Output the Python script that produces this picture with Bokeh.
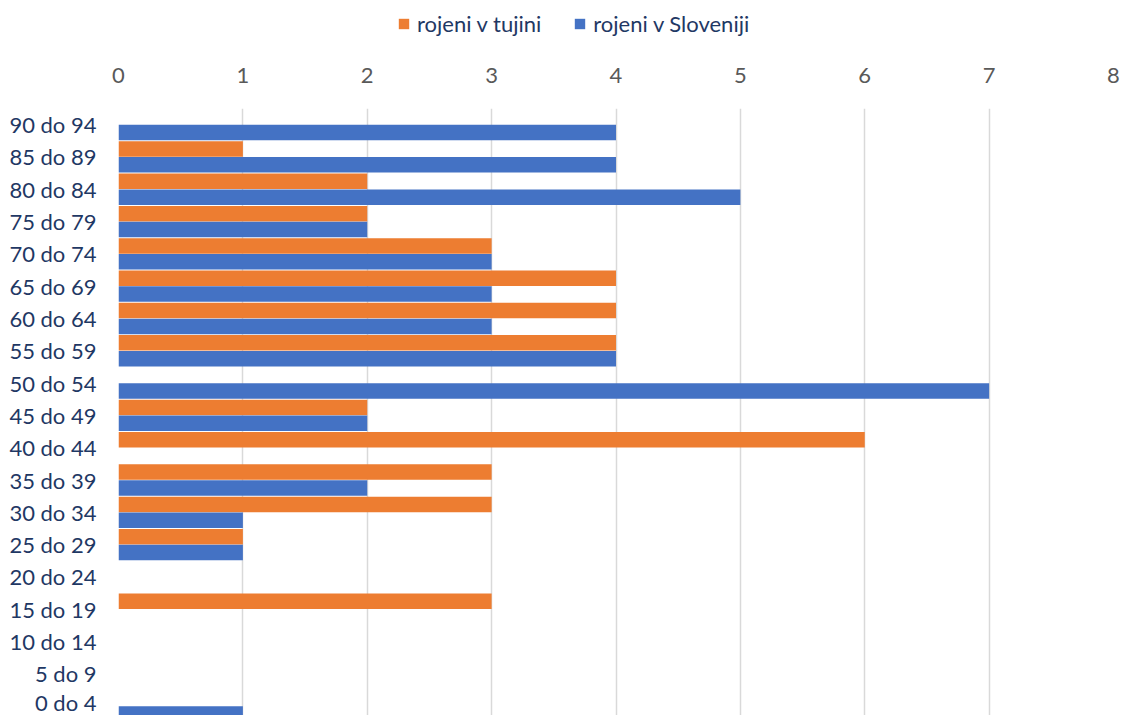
from bokeh.plotting import figure
from bokeh.layouts import column
from bokeh.models import Range1d, FixedTicker, Legend, LegendItem, ColumnDataSource
from bokeh.embed import file_html
from bokeh.resources import INLINE

# Age groups, bottom to top
categories = ["0 do 4", "5 do 9", "10 do 14", "15 do 19", "20 do 24", "25 do 29",
              "30 do 34", "35 do 39", "40 do 44", "45 do 49", "50 do 54", "55 do 59",
              "60 do 64", "65 do 69", "70 do 74", "75 do 79", "80 do 84", "85 do 89",
              "90 do 94"]
rojeni_v_tujini = [0, 0, 0, 3, 0, 1, 3, 3, 6, 2, 0, 4, 4, 4, 3, 2, 2, 1, 0]
rojeni_v_sloveniji = [1, 0, 0, 0, 0, 1, 1, 2, 0, 2, 7, 4, 3, 3, 3, 2, 5, 4, 4]
x_ticks = [0, 1, 2, 3, 4, 5, 6, 7, 8]
series_names = ["rojeni v tujini", "rojeni v Sloveniji"]

ORANGE = "#ED7D31"
BLUE = "#4472C4"
NAVY = "#1F3864"
GREY = "#595959"
FONT = "Lato"
FONT_SIZE = "22px"
W = 1122
LEGEND_H = 50
LEFT = 118

idx = list(range(len(categories)))
src_t = ColumnDataSource(dict(y=[i + 0.245 for i in idx], v=rojeni_v_tujini))
src_s = ColumnDataSource(dict(y=[i - 0.245 for i in idx], v=rojeni_v_sloveniji))

p = figure(width=W, height=715 - LEGEND_H, output_backend="svg", toolbar_location=None,
           x_range=Range1d(0, 8), y_range=Range1d(-0.29, 18.5),
           x_axis_location="above",
           min_border_left=LEFT, min_border_right=9, min_border_top=108 - LEGEND_H,
           min_border_bottom=0)
p.outline_line_color = None
p.background_fill_color = "white"
p.border_fill_color = "white"

r_t = p.hbar(y="y", right="v", left=0, height=0.48, source=src_t,
             fill_color=ORANGE, line_color=None)
r_s = p.hbar(y="y", right="v", left=0, height=0.48, source=src_s,
             fill_color=BLUE, line_color=None)

# top value axis
xa = p.xaxis[0]
xa.ticker = FixedTicker(ticks=x_ticks)
xa.axis_line_color = None
xa.major_tick_line_color = None
xa.minor_tick_line_color = None
xa.major_tick_out = 0
xa.major_label_standoff = 26
xa.major_label_text_font = FONT
xa.major_label_text_font_size = FONT_SIZE
xa.major_label_text_color = GREY

# category axis
ya = p.yaxis[0]
ya.ticker = FixedTicker(ticks=idx)
ya.major_label_overrides = {i: c for i, c in zip(idx, categories)}
ya.axis_line_color = None
ya.major_tick_line_color = None
ya.minor_tick_line_color = None
ya.major_tick_out = 0
ya.major_label_standoff = 22
ya.major_label_text_font = FONT
ya.major_label_text_font_size = FONT_SIZE
ya.major_label_text_color = NAVY

p.xgrid.grid_line_color = "#D9D9D9"
p.xgrid.grid_line_width = 1.5
p.ygrid.grid_line_color = None

# legend strip above the chart; its swatch renderers sit outside the visible range
lg = figure(width=W, height=LEGEND_H, output_backend="svg", toolbar_location=None,
            x_range=Range1d(0, 1), y_range=Range1d(0, 1),
            min_border_left=LEFT, min_border_right=9,
            min_border_top=0, min_border_bottom=0)
lg.axis.visible = False
lg.grid.visible = False
lg.outline_line_color = None
lg.background_fill_color = "white"
lg.border_fill_color = "white"
k_t = lg.hbar(y=[-5], right=[1], left=0, height=1, fill_color=ORANGE, line_color=None)
k_s = lg.hbar(y=[-5], right=[1], left=0, height=1, fill_color=BLUE, line_color=None)

legend = Legend(items=[LegendItem(label=series_names[0], renderers=[k_t]),
                       LegendItem(label=series_names[1], renderers=[k_s])],
                orientation="horizontal", location=(397 - LEFT, 13),
                glyph_width=13, glyph_height=13, spacing=32, padding=0, margin=0,
                label_standoff=7,
                label_text_font=FONT, label_text_font_size=FONT_SIZE,
                label_text_color=NAVY, border_line_color=None,
                background_fill_alpha=0)
lg.add_layout(legend, "center")

layout = column(lg, p, spacing=0)
open("out.html", "w").write(file_html(layout, INLINE))
